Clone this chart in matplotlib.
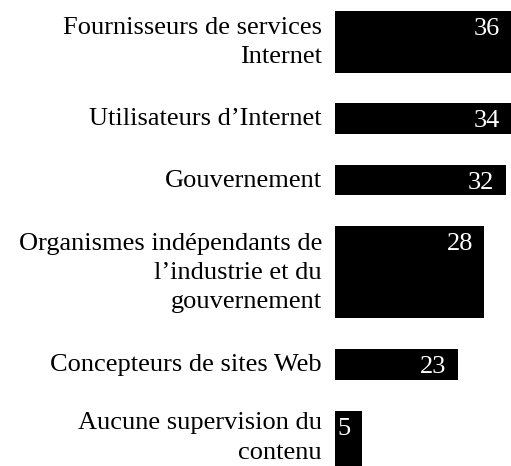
import matplotlib
matplotlib.use("Agg")
import matplotlib.pyplot as plt
from matplotlib.transforms import offset_copy

# données
categories = [
    "Fournisseurs de services\nInternet",
    "Utilisateurs d’Internet",
    "Gouvernement",
    "Organismes indépendants de\nl’industrie et du\ngouvernement",
    "Concepteurs de sites Web",
    "Aucune supervision du\ncontenu",
]
values = [36, 34, 32, 28, 23, 5]

plt.rcParams['font.family'] = ['Liberation Serif', 'DejaVu Serif']

fig = plt.figure(figsize=(5.11, 4.66), dpi=100)
ax = fig.add_axes([335 / 511, 0, 176 / 511, 1])

# hauteur de barre = nombre de lignes du libellé, un espace d'une ligne entre barres
gap = 1.0
tops, heights = [], []
pos = 0.0
for cat in categories:
    n = cat.count("\n") + 1
    tops.append(pos)
    heights.append(n)
    pos += n + gap
centers = [t + h / 2 for t, h in zip(tops, heights)]

xmax = 33
ax.barh(centers, values, height=heights, color="black")
ax.set_xlim(0, xmax)
ax.set_ylim(14.8, -0.36)
ax.set_xticks([])
ax.set_yticks([])
for s in ax.spines.values():
    s.set_visible(False)

# libellés à gauche des barres, alignés à droite
lab_trans = offset_copy(ax.get_yaxis_transform(), fig=fig, x=-9.4, y=-0.5, units="points")
# le dernier libellé touche le bas de l'image : on le remonte un peu
last_trans = offset_copy(ax.get_yaxis_transform(), fig=fig, x=-9.4, y=2.5, units="points")
for i, (c, cat) in enumerate(zip(centers, categories)):
    tr = last_trans if i == len(categories) - 1 else lab_trans
    ax.text(0, c, cat, fontsize=19, linespacing=1.42, ha="right", va="center",
            multialignment="right", transform=tr, clip_on=False)

# valeurs en blanc, alignées à droite dans la barre
trans = offset_copy(ax.transData, fig=fig, x=-8, y=0, units="points")
for t, v in zip(tops, values):
    ax.text(min(v, xmax), t + 0.5, str(v), color="white", fontsize=19,
            ha="right", va="center_baseline", transform=trans)

fig.savefig("out.png", dpi=100)
